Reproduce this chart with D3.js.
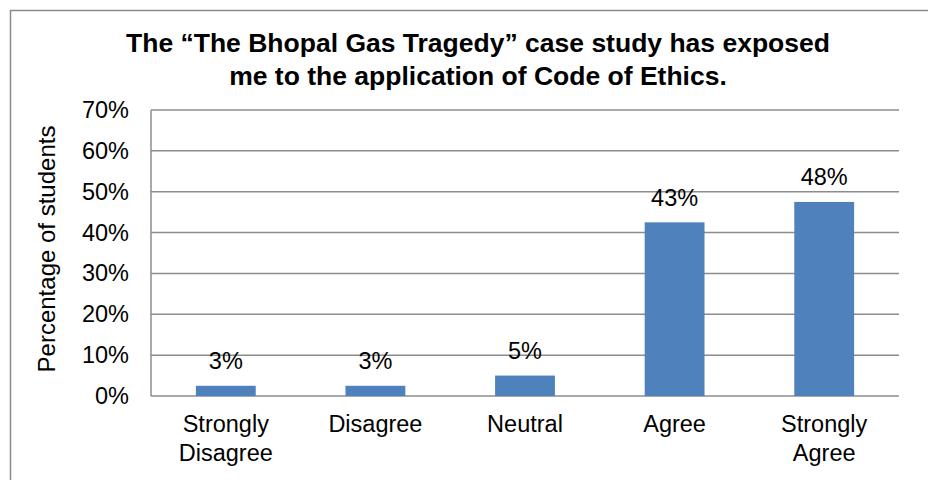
<!DOCTYPE html>
<html>
<head>
<meta charset="utf-8">
<script src="https://cdn.jsdelivr.net/npm/d3@7"></script>
<style>
  body { margin: 0; background: #fff; }
  svg { display: block; font-family: Arial, "Liberation Sans", sans-serif; }
</style>
</head>
<body>
<div id="chart"></div>
<script>
// data
const categories = [["Strongly", "Disagree"], ["Disagree"], ["Neutral"], ["Agree"], ["Strongly", "Agree"]];
const values = [2.5, 2.5, 5, 42.5, 47.5];
const valueLabels = ["3%", "3%", "5%", "43%", "48%"];
const yTicks = [0, 10, 20, 30, 40, 50, 60, 70];
const titleLines = ["The \u201cThe Bhopal Gas Tragedy\u201d case study has exposed", "me to the application of Code of Ethics."];

const width = 928, height = 480;
const margin = { top: 110, right: 29, bottom: 84, left: 151 };
const innerW = width - margin.left - margin.right;
const innerH = height - margin.top - margin.bottom;
const fontSize = 23.5;

const svg = d3.select("#chart")
    .append("svg")
    .attr("width", width)
    .attr("height", height);

// outer frame
svg.append("rect")
    .attr("x", 10.5).attr("y", 10.5)
    .attr("width", width)
    .attr("height", height)
    .attr("fill", "none")
    .attr("stroke", "#8c8c8c")
    .attr("stroke-width", 1.5);

const g = svg.append("g")
    .attr("transform", `translate(${margin.left},${margin.top})`);

const x = d3.scaleBand()
    .domain(d3.range(categories.length))
    .range([0, innerW])
    .paddingInner(0.6)
    .paddingOuter(0.3);

const y = d3.scaleLinear()
    .domain([0, 70])
    .range([innerH, 0]);

// gridlines
g.selectAll(".grid")
    .data(yTicks)
    .enter().append("line")
    .attr("x1", 0)
    .attr("x2", innerW)
    .attr("y1", d => y(d))
    .attr("y2", d => y(d))
    .attr("stroke", "#8c8c8c")
    .attr("stroke-width", 1.5);

// left axis line
g.append("line")
    .attr("x1", 0).attr("x2", 0)
    .attr("y1", 0).attr("y2", innerH)
    .attr("stroke", "#8c8c8c")
    .attr("stroke-width", 1.5);

// y axis labels
const yAxis = g.append("g")
    .call(d3.axisLeft(y).tickValues(yTicks).tickFormat(d => d + "%").tickSize(0).tickPadding(22));
yAxis.select(".domain").remove();
yAxis.selectAll("text")
    .attr("font-size", fontSize)
    .attr("font-family", "Arial, 'Liberation Sans', sans-serif")
    .attr("fill", "#000");

// bars
g.selectAll(".bar")
    .data(values)
    .enter().append("rect")
    .attr("class", "bar")
    .attr("x", (d, i) => x(i))
    .attr("width", x.bandwidth())
    .attr("y", d => y(d))
    .attr("height", d => innerH - y(d))
    .attr("fill", "#4f81bd");

// value labels
g.selectAll(".val")
    .data(values)
    .enter().append("text")
    .attr("x", (d, i) => x(i) + x.bandwidth() / 2)
    .attr("y", d => y(d) - 16.5)
    .attr("text-anchor", "middle")
    .attr("font-size", fontSize)
    .text((d, i) => valueLabels[i]);

// category labels
const cat = g.selectAll(".cat")
    .data(categories)
    .enter().append("text")
    .attr("text-anchor", "middle")
    .attr("font-size", fontSize)
    .attr("y", innerH + 36);
cat.selectAll("tspan")
    .data((d, i) => d.map(t => ({ t, i })))
    .enter().append("tspan")
    .attr("x", d => x(d.i) + x.bandwidth() / 2)
    .attr("dy", (d, j) => j === 0 ? 0 : 29)
    .text(d => d.t);

// y axis title
svg.append("text")
    .attr("transform", `translate(55,${margin.top + innerH / 2 - 4}) rotate(-90)`)
    .attr("text-anchor", "middle")
    .attr("font-size", 24)
    .text("Percentage of students");

// chart title
svg.append("text")
    .attr("text-anchor", "middle")
    .attr("font-size", 26.5)
    .attr("font-weight", "bold")
    .selectAll("tspan")
    .data(titleLines)
    .enter().append("tspan")
    .attr("x", 478)
    .attr("y", (d, i) => 52 + i * 33)
    .text(d => d);
</script>
</body>
</html>
